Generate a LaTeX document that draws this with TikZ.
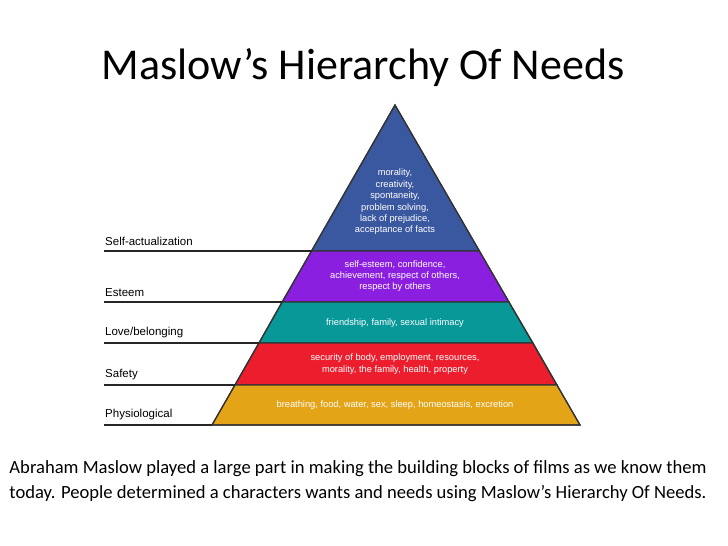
\documentclass[tikz,border=0pt]{standalone}
\usepackage{fontspec}
\setmainfont{Carlito}
\newfontfamily\lab{Liberation Sans}
\begin{document}
\begin{tikzpicture}[x=1pt,y=-1pt,
  layer/.style={draw=black!80,line width=1.2pt},
  inner/.style={text=white,font=\lab\fontsize{9.3}{11.4}\selectfont,align=center,inner sep=0pt},
  side/.style={font=\lab\fontsize{11.5}{13}\selectfont,anchor=south west,inner sep=1pt},
  rule/.style={black!85,line width=1.3pt}]
\useasboundingbox (0,0) rectangle (728,546);
\fill[layer,fill={rgb,255:red,58;green,88;blue,160}] (395,105) -- (479.4,251) -- (311.5,251) -- cycle;
\fill[layer,fill={rgb,255:red,139;green,31;blue,224}] (311.5,251) -- (479.4,251) -- (509,302) -- (282,302) -- cycle;
\fill[layer,fill={rgb,255:red,8;green,152;blue,152}] (282,302) -- (509,302) -- (533,343) -- (259,343) -- cycle;
\fill[layer,fill={rgb,255:red,236;green,30;blue,46}] (259,343) -- (533,343) -- (557,385) -- (235,385) -- cycle;
\fill[layer,fill={rgb,255:red,228;green,164;blue,24}] (235,385) -- (557,385) -- (580,425) -- (212,425) -- cycle;
\draw[layer] (395,105) -- (580,425) -- (212,425) -- cycle;
\node[inner] (t1) at (395,202) {morality,\\creativity,\\spontaneity,\\problem solving,\\lack of prejudice,\\acceptance of facts};
\node[inner] (t2) at (395,276) {self-esteem, confidence,\\achievement, respect of others,\\respect by others};
\node[inner] (t3) at (395,323) {friendship, family, sexual intimacy};
\node[inner] (t4) at (395,364) {security of body, employment, resources,\\morality, the family, health, property};
\node[inner] (t5) at (395,405) {breathing, food, water, sex, sleep, homeostasis, excretion};
\coordinate (l1) at (104,251); \coordinate (e1) at (311.5,251);
\coordinate (l2) at (104,302); \coordinate (e2) at (282,302);
\coordinate (l3) at (104,343); \coordinate (e3) at (259,343);
\coordinate (l4) at (104,385); \coordinate (e4) at (235,385);
\coordinate (l5) at (104,425); \coordinate (e5) at (212,425);
\draw[rule] (l1) -- (e1); \draw[rule] (l2) -- (e2); \draw[rule] (l3) -- (e3);
\draw[rule] (l4) -- (e4); \draw[rule] (l5) -- (e5);
\node[side] (s1) at ([yshift=4]l1) {Self-actualization};
\node[side] (s2) at ([yshift=4]l2) {Esteem};
\node[side] (s3) at ([yshift=4]l3) {Love/belonging};
\node[side] (s4) at ([yshift=4]l4) {Safety};
\node[side] (s5) at ([yshift=4]l5) {Physiological};
\node[font=\fontsize{44}{50}\selectfont] (title) at (363,68) {Maslow’s Hierarchy Of Needs};
\node[font=\fontsize{18.6}{25}\selectfont,align=left] (body) at (358,481) {Abraham Maslow played a large part in making the building blocks of films as we know them\\today. People determined a characters wants and needs using Maslow’s Hierarchy Of Needs.};
\end{tikzpicture}
\end{document}
